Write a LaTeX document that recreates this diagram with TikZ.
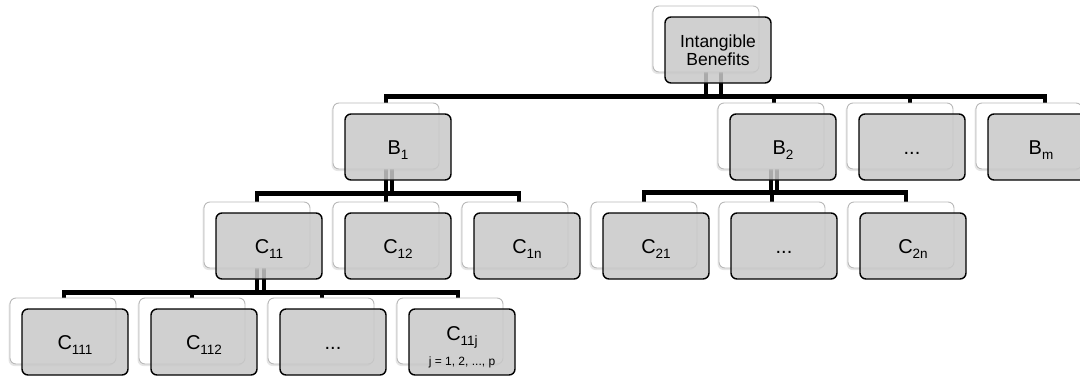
\documentclass[tikz,border=0pt]{standalone}
\usepackage{fontspec}
\setmainfont{Liberation Sans}
\usetikzlibrary{shadows,calc}
\pgfdeclarelayer{bg}
\pgfsetlayers{bg,main}
\definecolor{boxgray}{RGB}{200,200,200}
\definecolor{wedge}{RGB}{185,185,185}
\newcommand\lbl[2]{#1\raisebox{-5pt}[0pt][0pt]{\fontsize{13.5}{13.5}\selectfont #2}}
\newcommand\pairbox[4]{%
  \node[wbox] (#1-w) at ({#2+53},{#3+33}) {};
  \node[gbox] (#1) at ({#2+65},{#3+44}) {#4};}
\begin{document}
\begin{tikzpicture}[x=1pt,y=-1pt,
  wbox/.style={draw=wedge, line width=0.9pt, fill=white, rounded corners=6pt,
    minimum width=106pt, minimum height=66pt, inner sep=0pt,
    drop shadow={shadow xshift=-1.5pt, shadow yshift=-2pt, opacity=0.22, fill=black!45}},
  gbase/.style={draw=black, line width=1.4pt, fill=boxgray, fill opacity=0.85, text opacity=1,
    rounded corners=6pt, minimum width=106pt, minimum height=66pt, inner sep=0pt},
  gbox/.style={gbase, font=\fontsize{20}{22}\selectfont, text height=14.3pt, text depth=0pt},
  lab/.style={inner sep=0pt, font=\fontsize{20}{22}\selectfont, text height=14.3pt, text depth=0pt},
  small/.style={inner sep=0pt, font=\fontsize{12}{13}\selectfont},
  conn/.style={draw=black, line width=4.5pt, line join=miter}]
\useasboundingbox (0,0) rectangle (1080,381);

% level 0
\node[wbox] (top-w) at (706,39) {};
\node[gbase, align=center, font=\fontsize{17.5}{18.5}\selectfont] (top) at (718,50) {Intangible\\Benefits};

% level 1
\pairbox{b1}{333}{103}{\lbl{B}{1}}
\pairbox{b2}{718}{103}{\lbl{B}{2}}
\pairbox{bd}{847}{103}{...}
\pairbox{bm}{976}{103}{\lbl{B}{m}}

% level 2
\pairbox{c11}{204}{202}{\lbl{C}{11}}
\pairbox{c12}{333}{202}{\lbl{C}{12}}
\pairbox{c1n}{462}{202}{\lbl{C}{1n}}
\pairbox{c21}{591}{202}{\lbl{C}{21}}
\pairbox{c2d}{719}{202}{...}
\pairbox{c2n}{848}{202}{\lbl{C}{2n}}

% level 3
\pairbox{d1}{10}{298}{\lbl{C}{111}}
\pairbox{d2}{139}{298}{\lbl{C}{112}}
\pairbox{d3}{268}{298}{...}
\pairbox{d4}{397}{298}{}
\node[lab] (d4-t) at ($(d4.center)+(0,-8.5)$) {\lbl{C}{11j}};
\node[small, anchor=base] (d4-s) at ($(d4.center)+(0,23.5)$) {j = 1, 2, ..., p};

\coordinate (busA) at (0,96.5);
\coordinate (busB) at (0,193.5);
\coordinate (busC) at (0,192.5);
\coordinate (busD) at (0,292.5);

\begin{pgfonlayer}{bg}
% top -> B row
\draw[conn] (top-w.center) -- (top-w.center |- busA);
\draw[conn] ([xshift=15pt]top-w.center) -- ([xshift=15pt]top-w.center |- busA);
\draw[conn] (b1-w.north) -- (b1-w.north |- busA) -- ([xshift=16pt]bm-w.north |- busA) -- ([xshift=16pt]bm-w.north);
\draw[conn] ([xshift=3pt]b2-w.north |- busA) -- ([xshift=3pt]b2-w.north);
\draw[conn] ([xshift=10pt]bd-w.north |- busA) -- ([xshift=10pt]bd-w.north);

% B1 -> C1 row
\draw[conn] (b1-w.center) -- (b1-w.center |- busB);
\draw[conn] ([xshift=6pt]b1-w.center) -- ([xshift=6pt]b1-w.center |- busB);
\draw[conn] (c11-w.north) -- (c11-w.north |- busB) -- ([xshift=4pt]c1n-w.north |- busB) -- ([xshift=4pt]c1n-w.north);
\draw[conn] (c12-w.north |- busB) -- (c12-w.north);

% B2 -> C2 row
\draw[conn] (b2-w.center) -- (b2-w.center |- busC);
\draw[conn] ([xshift=6pt]b2-w.center) -- ([xshift=6pt]b2-w.center |- busC);
\draw[conn] (c21-w.north) -- (c21-w.north |- busC) -- ([xshift=5pt]c2n-w.north |- busC) -- ([xshift=5pt]c2n-w.north);
\draw[conn] (c2d-w.north |- busC) -- (c2d-w.north);

% C11 -> C11x row
\draw[conn] (c11-w.center) -- (c11-w.center |- busD);
\draw[conn] ([xshift=7pt]c11-w.center) -- ([xshift=7pt]c11-w.center |- busD);
\draw[conn] ([xshift=1pt]d1-w.north) -- ([xshift=1pt]d1-w.north |- busD) -- ([xshift=8pt]d4-w.north |- busD) -- ([xshift=8pt]d4-w.north);
\draw[conn] (d2-w.north |- busD) -- (d2-w.north);
\draw[conn] ([xshift=1pt]d3-w.north |- busD) -- ([xshift=1pt]d3-w.north);
\end{pgfonlayer}
\end{tikzpicture}
\end{document}
